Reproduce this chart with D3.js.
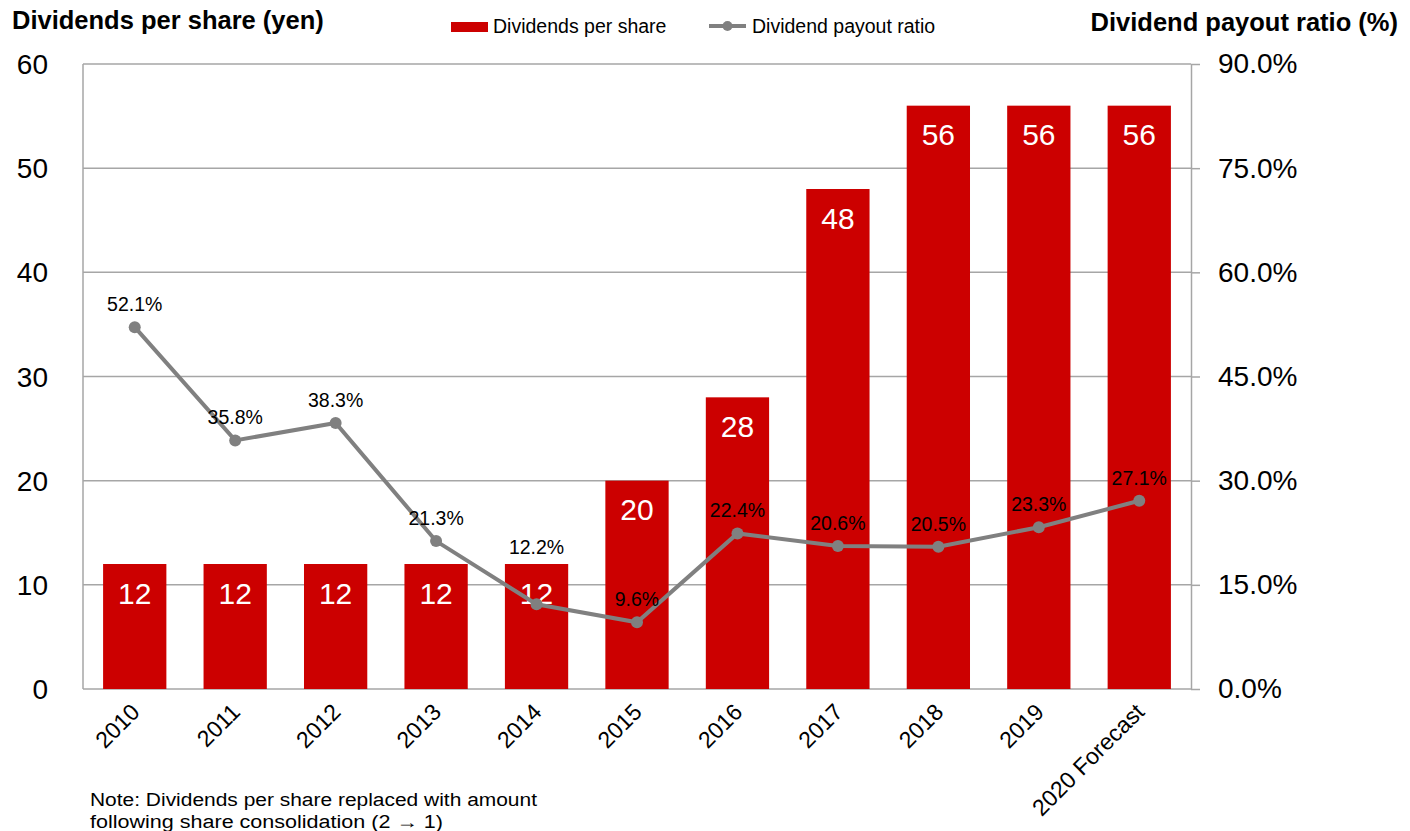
<!DOCTYPE html>
<html>
<head>
<meta charset="utf-8">
<script src="https://cdn.jsdelivr.net/npm/d3@7"></script>
<style>
  body { margin: 0; background: #fff; }
  svg { font-family: "Liberation Sans", Arial, sans-serif; }
</style>
</head>
<body>
<div id="chart"></div>
<script>
// chart data
var years = ["2010", "2011", "2012", "2013", "2014", "2015", "2016", "2017", "2018", "2019", "2020 Forecast"];
var dividends = [12, 12, 12, 12, 12, 20, 28, 48, 56, 56, 56];
var payoutRatio = [52.1, 35.8, 38.3, 21.3, 12.2, 9.6, 22.4, 20.6, 20.5, 23.3, 27.1];
var leftTicks = [0, 10, 20, 30, 40, 50, 60];
var rightTicks = [0, 15, 30, 45, 60, 75, 90];

var W = 1410, H = 831;
var plotLeft = 83, plotRight = 1191, plotTop = 64, plotBottom = 689;

var svg = d3.select("#chart")
    .append("svg")
    .attr("width", W)
    .attr("height", H);

var x = d3.scaleBand()
    .domain(years)
    .range([plotLeft, plotRight])
    .paddingInner(0.37)
    .paddingOuter(0.2);

var y = d3.scaleLinear().domain([0, 60]).range([plotBottom, plotTop]);
var y2 = d3.scaleLinear().domain([0, 90]).range([plotBottom, plotTop]);

var gridColor = "#a6a6a6";

function cx(i) {
    return x(years[i]) + x.bandwidth() / 2;
}

// gridlines
svg.append("g")
    .selectAll("line")
    .data(leftTicks)
    .enter()
    .append("line")
    .attr("x1", plotLeft)
    .attr("x2", plotRight)
    .attr("y1", function (d) { return y(d); })
    .attr("y2", function (d) { return y(d); })
    .attr("stroke", gridColor)
    .attr("stroke-width", 1.5);

// left border
svg.append("line")
    .attr("x1", plotLeft).attr("x2", plotLeft)
    .attr("y1", plotTop).attr("y2", plotBottom)
    .attr("stroke", gridColor)
    .attr("stroke-width", 1.5);

// left axis labels
svg.append("g")
    .selectAll("text")
    .data(leftTicks)
    .enter()
    .append("text")
    .attr("x", 48)
    .attr("y", function (d) { return y(d); })
    .attr("dy", "0.36em")
    .attr("text-anchor", "end")
    .style("font-size", "28px")
    .style("fill", "#000")
    .text(function (d) { return d; });

// bars
svg.append("g")
    .selectAll("rect")
    .data(dividends)
    .enter()
    .append("rect")
    .attr("x", function (d, i) { return x(years[i]); })
    .attr("y", function (d) { return y(d); })
    .attr("width", x.bandwidth())
    .attr("height", function (d) { return plotBottom - y(d); })
    .style("fill", "#cc0000");

// bar value labels
svg.append("g")
    .selectAll("text")
    .data(dividends)
    .enter()
    .append("text")
    .attr("x", function (d, i) { return cx(i); })
    .attr("y", function (d) { return y(d) + 29; })
    .attr("dy", "0.36em")
    .attr("text-anchor", "middle")
    .style("font-size", "30px")
    .style("fill", "#fff")
    .text(function (d) { return d; });

// right axis
var rAxis = svg.append("g")
    .attr("transform", "translate(" + plotRight + ",0)")
    .call(d3.axisRight(y2)
        .tickValues(rightTicks)
        .tickSize(9)
        .tickSizeOuter(0)
        .tickPadding(18)
        .tickFormat(function (d) { return d.toFixed(1) + "%"; }));
rAxis.select(".domain").attr("stroke", gridColor).attr("stroke-width", 1.5);
rAxis.selectAll(".tick line").attr("stroke", gridColor).attr("stroke-width", 1.5);
rAxis.selectAll(".tick text")
    .style("font-size", "28px")
    .style("font-family", "Liberation Sans, Arial, sans-serif")
    .attr("fill", "#000");

// x axis labels
svg.append("g")
    .selectAll("text")
    .data(years)
    .enter()
    .append("text")
    .attr("transform", function (d) {
        return "translate(" + (x(d) + x.bandwidth() / 2 - 5) + "," + (plotBottom + 13) + ") rotate(-45)";
    })
    .attr("text-anchor", "end")
    .attr("dy", "0.7em")
    .style("font-size", "23px")
    .style("fill", "#000")
    .text(function (d) { return d; });

// payout ratio line
var line = d3.line()
    .x(function (d, i) { return cx(i); })
    .y(function (d) { return y2(d); });

svg.append("path")
    .datum(payoutRatio)
    .attr("d", line)
    .attr("fill", "none")
    .attr("stroke", "#808080")
    .attr("stroke-width", 4);

svg.append("g")
    .selectAll("circle")
    .data(payoutRatio)
    .enter()
    .append("circle")
    .attr("cx", function (d, i) { return cx(i); })
    .attr("cy", function (d) { return y2(d); })
    .attr("r", 6)
    .style("fill", "#808080");

// ratio labels: above the point, or above the bar when it would hit the bar's own label
svg.append("g")
    .selectAll("text")
    .data(payoutRatio)
    .enter()
    .append("text")
    .attr("x", function (d, i) { return cx(i); })
    .attr("y", function (d, i) {
        var ly = y2(d) - 23;
        var barLabel = y(dividends[i]) + 29;
        if (Math.abs(ly - barLabel) < 26) ly = y(dividends[i]) - 17;
        return ly;
    })
    .attr("dy", "0.36em")
    .attr("text-anchor", "middle")
    .style("font-size", "19.5px")
    .style("fill", "#000")
    .text(function (d) { return d.toFixed(1) + "%"; });

// axis titles
svg.append("text")
    .attr("x", 12)
    .attr("y", 29)
    .style("font-size", "25.5px")
    .style("font-weight", "bold")
    .text("Dividends per share (yen)");

svg.append("text")
    .attr("x", 1398)
    .attr("y", 31)
    .attr("text-anchor", "end")
    .style("font-size", "25.5px")
    .style("font-weight", "bold")
    .text("Dividend payout ratio (%)");

// legend
var legend = svg.append("g");
legend.append("rect")
    .attr("x", 451).attr("y", 22)
    .attr("width", 37).attr("height", 10)
    .style("fill", "#cc0000");
legend.append("text")
    .attr("x", 493).attr("y", 33)
    .style("font-size", "19.5px")
    .text("Dividends per share");
legend.append("line")
    .attr("x1", 709).attr("x2", 746)
    .attr("y1", 26).attr("y2", 26)
    .attr("stroke", "#808080")
    .attr("stroke-width", 4);
legend.append("circle")
    .attr("cx", 727.5).attr("cy", 26).attr("r", 5)
    .style("fill", "#808080");
legend.append("text")
    .attr("x", 752).attr("y", 33)
    .style("font-size", "19.5px")
    .text("Dividend payout ratio");

// note
var note = svg.append("text")
    .attr("x", 90)
    .attr("y", 806)
    .style("font-size", "18px");
note.append("tspan").attr("x", 90)
    .attr("textLength", 447).attr("lengthAdjust", "spacingAndGlyphs")
    .text("Note: Dividends per share replaced with amount");
note.append("tspan").attr("x", 90).attr("dy", 22)
    .attr("textLength", 353).attr("lengthAdjust", "spacingAndGlyphs")
    .text("following share consolidation (2 \u2192 1)");
</script>
</body>
</html>
